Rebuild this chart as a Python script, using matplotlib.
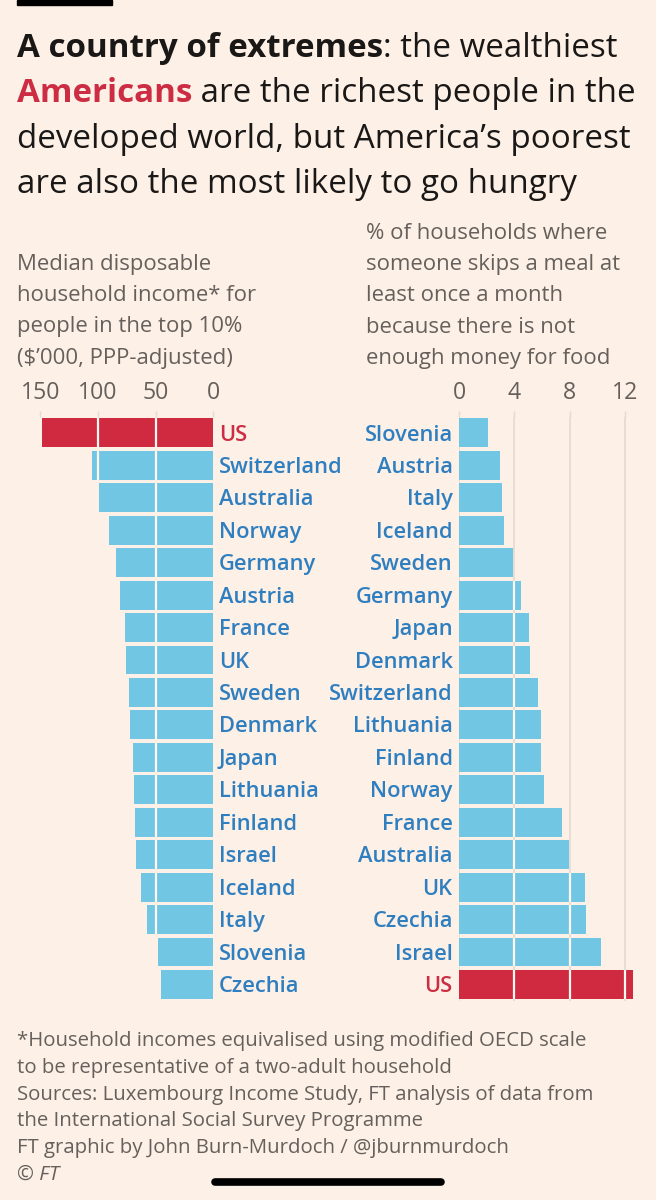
import matplotlib
matplotlib.use("Agg")
import matplotlib.pyplot as plt
from matplotlib import font_manager as fm
from matplotlib.lines import Line2D
from matplotlib.patches import Rectangle

# Left panel: median disposable income of the top 10%, $'000 PPP
income_countries = ["US", "Switzerland", "Australia", "Norway", "Germany", "Austria",
                    "France", "UK", "Sweden", "Denmark", "Japan", "Lithuania",
                    "Finland", "Israel", "Iceland", "Italy", "Slovenia", "Czechia"]
income_values = [148.3, 105.5, 99.1, 90.5, 84.4, 80.6, 76.6, 75.4, 72.8, 72.5,
                 69.9, 68.8, 68.2, 67.3, 62.7, 57.5, 48.0, 45.1]
income_ticks = [150, 100, 50, 0]

# Right panel: % of households where someone skips a meal
hunger_countries = ["Slovenia", "Austria", "Italy", "Iceland", "Sweden", "Germany",
                    "Japan", "Denmark", "Switzerland", "Lithuania", "Finland", "Norway",
                    "France", "Australia", "UK", "Czechia", "Israel", "US"]
hunger_values = [2.1, 2.96, 3.08, 3.25, 3.88, 4.46, 5.06, 5.13, 5.69, 5.93,
                 5.95, 6.17, 7.47, 7.93, 9.1, 9.18, 10.3, 12.6]
hunger_ticks = [0, 4, 8, 12]

title_lines = [
    [("A country of extremes", "bold", "dark"), (": the wealthiest", "normal", "dark")],
    [("Americans", "bold", "red"), (" are the richest people in the", "normal", "dark")],
    [("developed world, but America\u2019s poorest", "normal", "dark")],
    [("are also the most likely to go hungry", "normal", "dark")],
]
left_subtitle = ["Median disposable", "household income* for",
                 "people in the top 10%", "($\u2019000, PPP-adjusted)"]
right_subtitle = ["% of households where", "someone skips a meal at",
                  "least once a month", "because there is not", "enough money for food"]
footnotes = ["*Household incomes equivalised using modified OECD scale",
             "to be representative of a two-adult household",
             "Sources: Luxembourg Income Study, FT analysis of data from",
             "the International Social Survey Programme",
             "FT graphic by John Burn-Murdoch / @jburnmurdoch"]

BG = "#fdf0e6"
DARK = "#1a1817"
GREY = "#66605c"
RED = "#cc2d42"
RED_BAR = "#cf2a3f"
BLUE_BAR = "#70c6e3"
BLUE_TXT = "#2f7fc0"
GRID = "#e4dad0"
COLORS = {"dark": DARK, "red": RED}

W, H = 656, 1200


def weights_of(family):
    out = set()
    for f in fm.fontManager.ttflist:
        if f.name == family and f.style == "normal":
            w = f.weight
            out.add(fm.weight_dict.get(w, w) if isinstance(w, str) else int(w))
    return out


# pick the first family that really has a bold face
FAMILY = "DejaVu Sans"
for fam in ["Open Sans", "Noto Sans", "Roboto", "Lato", "Liberation Sans"]:
    if any(w >= 600 for w in weights_of(fam)):
        FAMILY = fam
        break
ws = weights_of(FAMILY)
LABEL_W = 500 if 500 in ws else (600 if 600 in ws else "normal")

plt.rcParams["font.family"] = [FAMILY, "DejaVu Sans"]

fig = plt.figure(figsize=(W / 100, H / 100), dpi=100, facecolor=BG)
renderer = fig.canvas.get_renderer()


def fx(x):
    return x / W


def fy(y):
    return 1 - y / H


def fit_size(s, width_px, **kw):
    # font size that makes s about width_px wide
    t = fig.text(0, 0, s, fontsize=10, **kw)
    w = t.get_window_extent(renderer).width
    t.remove()
    return 10 * width_px / w


def text_line(x, y, parts, size):
    for s, weight, color in parts:
        t = fig.text(fx(x), fy(y), s, fontsize=size, fontweight=weight,
                     color=COLORS[color], va="baseline", ha="left")
        x = t.get_window_extent(renderer).x1


title_size = fit_size(title_lines[3][0][0], 567) * 0.985
sub_size = (fit_size(left_subtitle[1], 245) + fit_size(right_subtitle[1], 248)) / 2
foot_size = fit_size(footnotes[0], 571)
label_size = fit_size("Switzerland", 123, fontweight=LABEL_W)
tick_size = fit_size("150", 40)

# FT brand bar
fig.add_artist(Rectangle((fx(17), fy(5)), (112 - 17) / W, 5 / H,
                         transform=fig.transFigure, color="black"))

for i, parts in enumerate(title_lines):
    text_line(17, 57 + i * 45.4, parts, title_size)

for i, s in enumerate(left_subtitle):
    fig.text(fx(17), fy(270 + i * 31.2), s, fontsize=sub_size, color=GREY, va="baseline")
for i, s in enumerate(right_subtitle):
    fig.text(fx(366), fy(239 + i * 31.2), s, fontsize=sub_size, color=GREY, va="baseline")

for i, s in enumerate(footnotes):
    fig.text(fx(17), fy(1046 + i * 26.8), s, fontsize=foot_size, color=GREY, va="baseline")
fig.text(fx(17), fy(1180), "\u00a9 FT", fontsize=foot_size, color=GREY, va="baseline",
         style="italic")

# axes geometry (pixels)
top, pitch = 416.7, 32.44
bottom = top + pitch * len(income_values)
bar_h = 0.89

left_px = 1.153      # px per $'000
right_px = 13.83     # px per percentage point
ax1 = fig.add_axes([fx(213.3 - 160 * left_px), fy(bottom),
                    160 * left_px / W, (bottom - top) / H])
ax2 = fig.add_axes([fx(459), fy(bottom), 13 * right_px / W, (bottom - top) / H])


def panel(ax, names, values, ticks, xmax, side):
    n = len(values)
    ys = list(range(n))
    cols = [RED_BAR if c == "US" else BLUE_BAR for c in names]
    ax.barh(ys, values, height=bar_h, color=cols, zorder=2)
    for y, v in zip(ys, values):
        for t in ticks:
            if 0 < t < v:
                ax.vlines(t, y - bar_h / 2, y + bar_h / 2, color="#fff8f2", lw=1.6, zorder=3)
    for y, c in zip(ys, names):
        off = 4 if side == "left" else -4.5
        ax.annotate(c, (0, y), xytext=(off, -1.5), textcoords="offset points",
                    ha="left" if side == "left" else "right", va="center",
                    fontsize=label_size, fontweight=LABEL_W,
                    color=RED if c == "US" else BLUE_TXT, annotation_clip=False)
    ax.set_xlim(0, xmax)
    ax.set_ylim(n - 0.5, -0.5)
    ax.set_facecolor("none")
    for sp in ax.spines.values():
        sp.set_visible(False)
    ax.set_yticks([])
    ax.set_xticks(ticks)
    ax.set_xticklabels([str(t) for t in ticks])
    ax.xaxis.tick_top()
    ax.tick_params(axis="x", length=4.5, width=1, color=GRID, pad=4,
                   labelsize=tick_size, labelcolor=GREY)


panel(ax1, income_countries, income_values, income_ticks, 160, "left")
ax1.invert_xaxis()

panel(ax2, hunger_countries, hunger_values, hunger_ticks, 13, "right")
ax2.grid(axis="x", color=GRID, lw=1.2, zorder=0)
ax2.set_axisbelow(True)

# phone home indicator from the screenshot
fig.add_artist(Line2D([fx(215), fx(441)], [fy(1182), fy(1182)], transform=fig.transFigure,
                      color="black", lw=5.5, solid_capstyle="round"))

fig.savefig("out.png", dpi=100, facecolor=BG)
